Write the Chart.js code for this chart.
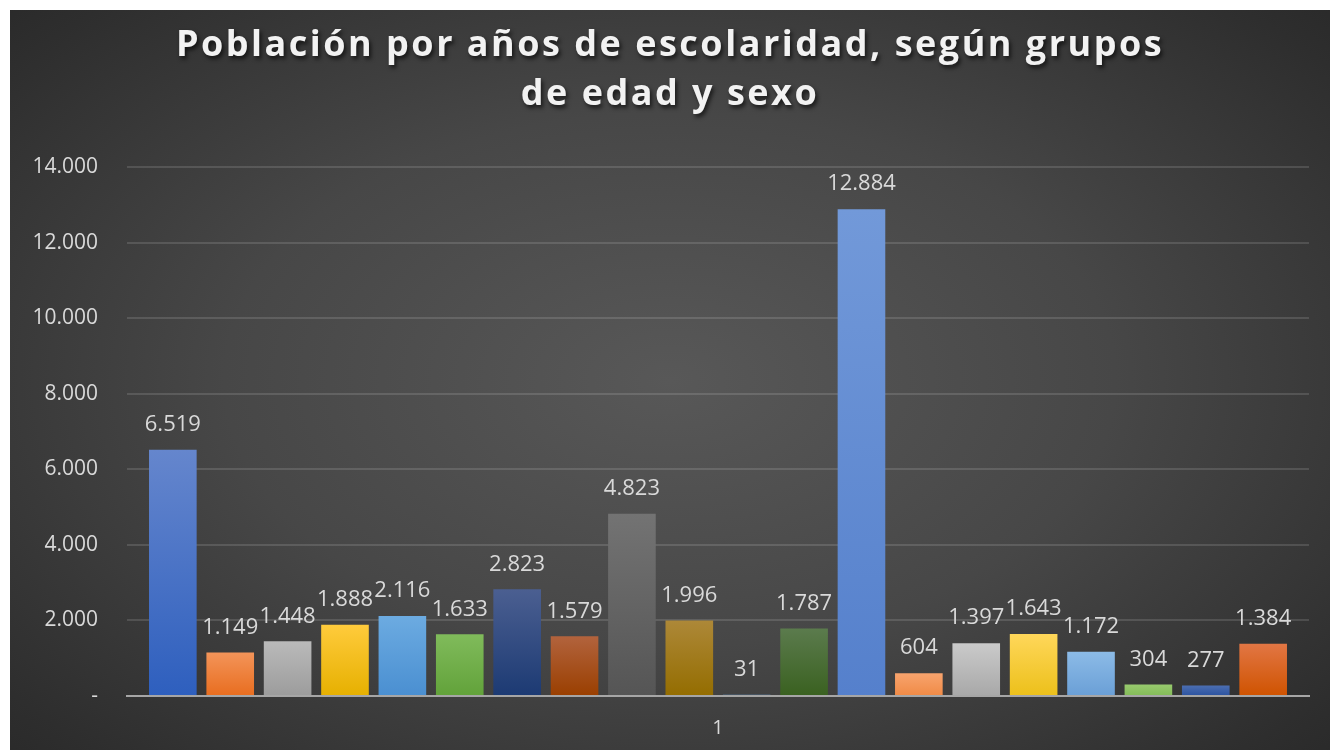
<!DOCTYPE html>
<html>
<head>
<meta charset="utf-8">
<script src="https://cdn.jsdelivr.net/npm/chart.js@4/dist/chart.umd.min.js"></script>
<style>
  html, body { margin: 0; padding: 0; background: #fff; }
  #panel {
    position: absolute; left: 10px; top: 10px; width: 1320px; height: 740px;
    background: radial-gradient(ellipse 75% 80% at 50% 50%, #585858 0%, #474747 45%, #2e2e2e 85%, #262626 100%);
  }
  #title {
    position: absolute; left: 0; top: 8px; width: 100%;
    text-align: center; color: #f2f2f2;
    font-family: "Open Sans", sans-serif; font-weight: bold; font-size: 36px;
    line-height: 49px; letter-spacing: 2.5px;
    text-shadow: 2px 3px 4px rgba(0,0,0,0.65);
  }
  canvas { position: absolute; left: 0; top: 0; }
</style>
</head>
<body>
<div id="panel">
  <canvas id="chart" width="1320" height="740"></canvas>
  <div id="title">Población por años de escolaridad, según grupos<br>de edad y sexo</div>
</div>
<script>
// categories and values
var categories = ["1"];
var seriesValues = [6519, 1149, 1448, 1888, 2116, 1633, 2823, 1579, 4823, 1996,
                    31, 1787, 12884, 604, 1397, 1643, 1172, 304, 277, 1384];
var yTicks = [0, 2000, 4000, 6000, 8000, 10000, 12000, 14000];

// top / bottom colours of each bar gradient
var colorTop = ["#6586cd", "#f39459", "#bababa", "#ffcb3c", "#6cabe1", "#80bb5b", "#4b5f91", "#b2633d", "#737373", "#ad8838",
                "#5a8fc4", "#5b7b4d", "#7299d9", "#f8a46e", "#cacaca", "#ffd75a", "#8cbbe7", "#98ca6e", "#4b6eb1", "#e27644"];
var colorBottom = ["#2e5fbe", "#e86d1f", "#9c9c9c", "#e6b000", "#4a8fd1", "#62a23a", "#1c3a73", "#9a3f00", "#555555", "#946d00",
                   "#2f66a6", "#3a6120", "#5580cc", "#f08a45", "#a8a8a8", "#ecc01a", "#6a9fd6", "#83bb58", "#2b52a0", "#cf5300"];

function fmt(v) {
  if (v === 0) return "-";
  return v.toString().replace(/\B(?=(\d{3})+(?!\d))/g, ".");
}

var datasets = [];
for (var i = 0; i < seriesValues.length; i++) {
  (function(i){
    datasets.push({
      label: "Serie " + (i + 1),
      data: [seriesValues[i]],
      backgroundColor: function(ctx) {
        var chart = ctx.chart;
        if (!chart.chartArea) return colorBottom[i];
        var y = chart.scales.y;
        var top = y.getPixelForValue(seriesValues[i]);
        var bot = y.getPixelForValue(0);
        if (bot - top < 1) return colorBottom[i];
        var g = chart.ctx.createLinearGradient(0, top, 0, bot);
        g.addColorStop(0, colorTop[i]);
        g.addColorStop(1, colorBottom[i]);
        return g;
      },
      borderWidth: 0
    });
  })(i);
}

// value labels above bars
var valueLabels = {
  id: 'valueLabels',
  afterDatasetsDraw: function(chart) {
    var ctx = chart.ctx;
    ctx.save();
    ctx.font = "22px 'Open Sans', sans-serif";
    ctx.fillStyle = "#d9d9d9";
    ctx.textAlign = "center";
    ctx.textBaseline = "middle";
    chart.data.datasets.forEach(function(ds, i) {
      var bar = chart.getDatasetMeta(i).data[0];
      ctx.fillText(fmt(ds.data[0]), bar.x, bar.y - 25);
    });
    ctx.restore();
  }
};

var ctx = document.getElementById("chart");
var chart = new Chart(ctx, {
  type: 'bar',
  data: { labels: categories, datasets: datasets },
  plugins: [valueLabels],
  options: {
    responsive: false,
    animation: false,
    layout: { padding: { top: 157, right: 21, bottom: 0, left: 0 } },
    categoryPercentage: 0.971,
    barPercentage: 0.83,
    plugins: {
      legend: { display: false },
      tooltip: { enabled: false },
      title: { display: false }
    },
    scales: {
      x: {
        afterFit: function(s) { s.height = 54; },
        grid: { display: false, drawTicks: false },
        border: { color: "#a6a6a6", width: 2 },
        ticks: { color: "#d9d9d9", font: { family: "'Open Sans', sans-serif", size: 20 }, padding: 20 }
      },
      y: {
        min: 0, max: 14000,
        afterBuildTicks: function(s) { s.ticks = yTicks.map(function(v){ return { value: v }; }); },
        afterFit: function(s) { s.width = 117; },
        grid: { color: "rgba(255,255,255,0.13)", lineWidth: 2, drawTicks: false },
        border: { display: false },
        ticks: {
          color: "#d9d9d9", padding: 29,
          font: { family: "'Open Sans', sans-serif", size: 21 },
          callback: function(v) { return fmt(v); }
        }
      }
    }
  }
});
</script>
</body>
</html>
